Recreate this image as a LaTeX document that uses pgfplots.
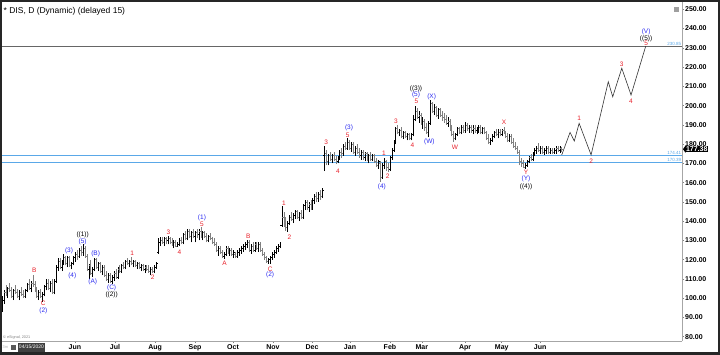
\documentclass[border=0pt]{standalone}
\usepackage{pgfplots}
\pgfplotsset{compat=1.18}
\usepackage{pgfplotstable}
\usepackage{fontspec}
\setmainfont{Liberation Sans}
\definecolor{wred}{HTML}{E8202A}
\definecolor{wblue}{HTML}{2A2AF0}
\definecolor{lblue}{HTML}{5AA8E8}
\pgfdeclareplotmark{ctick}{\pgfpathmoveto{\pgfpointorigin}\pgfpathlineto{\pgfpoint{1.4pt}{0pt}}\pgfusepathqstroke}
\pgfdeclareplotmark{otick}{\pgfpathmoveto{\pgfpointorigin}\pgfpathlineto{\pgfpoint{-1.4pt}{0pt}}\pgfusepathqstroke}
\pgfplotstableread{
o h l c
94 101 93 99
99 104 97 103
103 107 101 102
102 106 100 105
105 108 103 104
104 106 100 101
101 105 99 104
104 107 102 103
103 105 100 101
101 104 99 103
103 106 101 102
102 104 100 101
101 105 100 104
104 108 103 107
107 110 104 105
105 109 103 108
108 112 106 107
107 109 103 104
104 106 100 101
101 104 99 103
103 105 100 101
101 103 98 102
102 107 101 106
106 110 104 108
108 110 104 105
105 109 103 108
108 110 102 103
103 110 102 109
109 117 108 116
116 121 114 119
119 121 115 116
116 120 114 119
119 123 117 121
121 122 117 118
118 122 116 121
121 122 116 117
117 119 115 118
118 122 117 121
121 124 119 123
123 125 120 122
122 126 121 125
125 127 122 124
124 128 122 126
126 127 121 122
122 123 114 115
115 118 110 117
117 120 112 113
113 116 111 115
115 121 114 120
120 121 115 116
116 119 114 118
118 119 113 114
114 117 112 116
116 117 111 112
112 114 109 110
110 113 108 112
112 113 108 109
109 112 107.5 111
111 114 109 113
113 115 110 111
111 116 110 115
115 117 113 114
114 118 113 117
117 119 115 116
116 120 115 119
119 121 117 118
118 120 116 119
119 121.5 117 118
118 120 116 119
119 120 116 117
117 119 115 118
118 119 115 116
116 118 114 117
117 118 114 115
115 117 113 116
116 117 114 115
115 117 113 114
114 116 112 115
115 116 113 114
114 117 113 116
116 119 115 118
124 131 123 129
129 132 127 130
130 132 128 129
129 132 127 131
131 132 128 130
130 132.5 128 131
131 132 128 129
129 131 127 128
128 130 126 129
129 130 126.5 127
127 129 126.5 128
128 131 127 130
130 132 128 129
129 134 128 133
133 135 130 131
131 136 130 135
135 136 131 132
132 135 129 134
134 136 131 132
132 135 129 134
134 136 131 133
133 136 130 135
135 137 131 132
132 135 130 134
134 135 131 132
132 134 129 130
130 133 129 132
132 134 130 131
131 132 128 129
129 131 127 128
128 129 124 125
125 127 122 126
126 127 123 124
124 125 121 122
122 124 120.5 123
123 127 122 126
126 127 123 124
124 126 122 125
125 126 122 123
123 125 121 124
123 124 121 122
122 125 121 124
124 126 122 125
125 127 123 126
126 128 124 127
127 129 125 128
128 130 126 129
129 130 124 125
125 128 123 127
127 129 124 125
125 129 124 128
128 129 125 126
126 129 124 128
128 129 124 125
125 126 122 123
123 124 120 121
121 122 118.5 119
119 121 118 120
120 122 118 121
121 124 120 123
123 125 121 124
124 127 123 126
126 128 124 127
127 129 126 128
138 148 137 142
142 145 137 139
139 142 135 137
137 140 134.5 139
139 143 138 142
142 145 140 141
141 144 139 143
143 146 141 145
145 146 141 142
142 145 140 144
144 146 141 142
142 149 141 148
148 151 146 150
150 151 146 147
147 150 145 149
149 151 146 147
147 152 146 151
151 154 149 153
153 155 150 152
152 155 150 154
154 156 151 153
153 157 152 156
174 179 166 175
175 177 169 171
171 175 169 174
174 176 171 172
172 175 170 174
174 176 171 172
172 174 169.5 171
171 174 170 173
173 177 172 176
176 178 173 175
175 180 174 179
179 181 177 178
178 183 177 181
181 182 177 178
178 181 176 180
180 181 175 176
176 179 174 178
178 180 175 176
176 178 173 174
174 177 172 176
176 177 172 173
173 176 171 175
175 176 171 172
172 175 170 174
174 176 171 172
172 175 171 174
174 175 170 171
171 173 168 169
169 172 167 171
170 171 160.5 163
163 170 162 169
169 173 167 171
171 172 166 168
168 170 165.5 167
167 174 166 173
173 178 172 177
177 182 176 181
181 189 180 188
188 190 185 186
186 188 184 187
187 189 183 184
184 187 182.5 186
186 187 183 184
184 186 182 185
185 186 182 183
183 186 182 185
185 195 184 193
193 200 192 197
197 199 193 194
194 197 191 195
195 196 190 191
191 194 188 192
192 193 187 189
189 191 185 186
186 192 183.5 191
191 203 190 201
201 202 196 197
197 201 195 199
199 200 194 195
195 199 193 198
198 199 194 195
195 197 192 194
194 196 191 193
193 195 190 191
191 194 189 192
192 193 187 188
188 190 184 185
185 187 181 183
183 186 182 185
185 189 184 188
188 189 185 186
186 190 185 189
189 190 186 187
187 191.5 186 190
190 191 187 188
188 190 186 189
189 190 186 187
187 190 185 189
188 190 186 187
187 189 185 188
188 190 186 189
189 190 185 186
186 189 185 188
188 189 185 186
186 187 182 183
183 185 180 181
181 183 179.5 182
182 185 181 184
184 187 183 186
186 188 184 185
185 188 183 187
186 188 184 185
185 188 184 187
187 189 185 186
186 187 183 184
184 186 181 182
182 185 181 184
184 185 180 181
181 183 178 179
179 181 177 178
178 179 175 176
176 177 169 171
171 173 168 170
170 172 167.5 168
168 170 167 169
169 172 168 171
171 174 170 173
173 175 171 172
172 176 171 175
175 178 174 177
177 179 175 178
178 180.5 176 177
177 179 175 178
178 179 175 176
176 178 174.5 177
177 179 175 178
178 179 175 176
176 178 175 177
177 178 175 176
176 178 175 177
177 179 175 178
178 179 176 177
177 179 175.5 178
178 178.5 176 177.4
}\bars
\begin{document}
\begin{tikzpicture}[x=1pt,y=1pt,
  wr/.style={text=wred, font=\fontsize{6.5}{7}\selectfont, inner sep=0pt},
  wb/.style={text=wblue, font=\fontsize{6.5}{7}\selectfont, inner sep=0pt},
  wk/.style={text=black, font=\fontsize{6.5}{7}\selectfont, inner sep=0pt}]
\begin{axis}[at={(1pt,13pt)}, anchor=south west, scale only axis,
  width=681pt, height=339pt,
  xmin=-0.52, xmax=352.3, ymin=77.77, ymax=253.79, clip=false,
  axis x line*=bottom, axis y line*=right,
  axis line style={-, draw=gray!70, line width=0.8pt},
  tick align=outside, major tick length=2pt, tick style={gray, line width=0.5pt},
  ytick={80,90,...,250}, yticklabel pos=right,
  yticklabel style={font=\bfseries\fontsize{7}{8}\selectfont, inner sep=1pt,
    /pgf/number format/fixed, /pgf/number format/fixed zerofill,
    /pgf/number format/precision=2, /pgf/number format/assume math mode=true},
  xtick={37.8,58.5,79.3,100,119.7,140.4,160.6,180.3,201,217.5,239.9,258.9,278.8},
  xticklabels={Jun,Jul,Aug,Sep,Oct,Nov,Dec,Jan,Feb,Mar,Apr,May,Jun},
  xticklabel style={font=\bfseries\fontsize{7}{8}\selectfont, inner sep=1.5pt},
]
% reference levels
\addplot[gray!80!black, line width=0.7pt] coordinates {(-0.52,230.85) (352.3,230.85)};
\addplot[lblue, line width=0.7pt] coordinates {(-0.52,174.41) (352.3,174.41)};
\addplot[lblue, line width=0.7pt] coordinates {(-0.52,170.39) (352.3,170.39)};
% up bars
\addplot[black, line width=0.6pt, quiver={u=0, v=\thisrow{h}-\thisrow{l}}, -]
  table[x expr={\thisrow{c}>=\thisrow{o} ? \coordindex : nan}, y=l] {\bars};
\addplot[black, line width=0.5pt, only marks, mark=ctick]
  table[x expr={\thisrow{c}>=\thisrow{o} ? \coordindex : nan}, y=c] {\bars};
\addplot[black, line width=0.5pt, only marks, mark=otick]
  table[x expr={\thisrow{c}>=\thisrow{o} ? \coordindex : nan}, y=o] {\bars};
% down bars
\addplot[gray, line width=0.6pt, quiver={u=0, v=\thisrow{h}-\thisrow{l}}, -]
  table[x expr={\thisrow{c}<\thisrow{o} ? \coordindex : nan}, y=l] {\bars};
\addplot[gray, line width=0.5pt, only marks, mark=ctick]
  table[x expr={\thisrow{c}<\thisrow{o} ? \coordindex : nan}, y=c] {\bars};
\addplot[gray, line width=0.5pt, only marks, mark=otick]
  table[x expr={\thisrow{c}<\thisrow{o} ? \coordindex : nan}, y=o] {\bars};
% projection
\addplot[black!80, line width=0.6pt] coordinates {(290,174.4) (294.3,186.1) (296.5,181.6) (299,190.8) (305.2,174.4) (314.1,212.4) (316.4,204.6) (321.1,219.4) (325.9,205.5) (333.5,230.85)};
% labels
\node[wr] at (16.7,114.3) {B};
\node[wr] at (21.4,97.2) {C};
\node[wr] at (67.5,123.3) {1};
\node[wr] at (78.1,110.8) {2};
\node[wr] at (86.2,134.2) {3};
\node[wr] at (91.9,123.8) {4};
\node[wr] at (103.6,138.4) {5};
\node[wr] at (115.3,118.1) {A};
\node[wr] at (127.6,132.3) {B};
\node[wr] at (138.9,115) {C};
\node[wr] at (146.1,149.2) {1};
\node[wr] at (148.9,131.6) {2};
\node[wr] at (167.9,181) {3};
\node[wr] at (174,165.7) {4};
\node[wr] at (179.1,184.7) {5};
\node[wr] at (197.9,175.2) {1};
\node[wr] at (199.8,163.1) {2};
\node[wr] at (204.1,192) {3};
\node[wr] at (212.6,179.5) {4};
\node[wr] at (214.7,202) {5};
\node[wr] at (234.7,178.3) {W};
\node[wr] at (260.1,191.1) {X};
\node[wr] at (271.5,165.2) {Y};
\node[wr] at (299,193.4) {1};
\node[wr] at (305.2,171.2) {2};
\node[wr] at (321.1,221.4) {3};
\node[wr] at (325.9,202.5) {4};
\node[wr] at (333.7,232.3) {5};
\node[wb] at (21.4,93.4) {(2)};
\node[wb] at (34.7,124.7) {(3)};
\node[wb] at (36.4,111.7) {(4)};
\node[wb] at (41.8,129.3) {(5)};
\node[wb] at (48.5,122.9) {(B)};
\node[wb] at (47,108.6) {(A)};
\node[wb] at (56.8,105.5) {(C)};
\node[wb] at (103.6,141.5) {(1)};
\node[wb] at (138.9,111.9) {(2)};
\node[wb] at (179.8,188.7) {(3)};
\node[wb] at (196.8,157.9) {(4)};
\node[wb] at (214.5,205.5) {(5)};
\node[wb] at (221.4,181.3) {(W)};
\node[wb] at (222.6,204.6) {(X)};
\node[wb] at (271.5,161.8) {(Y)};
\node[wb] at (333.7,238.4) {(V)};
\node[wk] at (41.8,132.8) {((1))};
\node[wk] at (56.8,101.7) {((2))};
\node[wk] at (214.5,208.5) {((3))};
\node[wk] at (271.5,157.6) {((4))};
\node[wk] at (333.7,234.6) {((5))};
% level texts
\node[anchor=south east, inner sep=0.6pt, text=lblue, font=\fontsize{4.5}{5}\selectfont] at (352.3,230.85) {230.85};
\node[anchor=south east, inner sep=0.6pt, text=lblue, font=\fontsize{4.5}{5}\selectfont] at (352.3,174.41) {174.41};
\node[anchor=south east, inner sep=0.6pt, text=lblue, font=\fontsize{4.5}{5}\selectfont] at (352.3,170.39) {170.39};
% price tag
\node[fill=black, text=white, font=\bfseries\fontsize{7}{8}\selectfont, inner sep=0.8pt, anchor=west, xshift=3pt] at (352.3,177.38) {177.38};
\fill[black] (352.3,177.38) ++(1pt,0pt) -- ++(2.5pt,3.6pt) -- ++(0pt,-7.2pt) -- cycle;
\end{axis}
% title and decorations
\node[anchor=west, inner sep=0pt, font=\fontsize{8.5}{10}\selectfont] at (3.5,342.3) {* DIS, D (Dynamic) (delayed 15)};
\fill[gray!75] (674,341.5) rectangle (679,346.5);
\node[anchor=west, inner sep=0pt, text=gray, font=\fontsize{3.8}{4}\selectfont] at (3,16) {\textcopyright{} eSignal, 2021};
\node[anchor=west, inner sep=0pt, text=gray!60, font=\fontsize{4}{4}\selectfont] at (2.5,7) {3m};
\fill[gray!70!black] (11,4.5) rectangle (16,9.5);
\node[fill=black!75, text=white, font=\fontsize{5}{6}\selectfont, inner sep=0pt, minimum width=27pt, minimum height=9pt] at (31.5,6.8) {04/15/2020};
\draw[line width=4pt, black!85] (0,0) rectangle (720,354);
\pgfresetboundingbox
\path[use as bounding box] (0,0) rectangle (720,354);
\end{tikzpicture}
\end{document}
